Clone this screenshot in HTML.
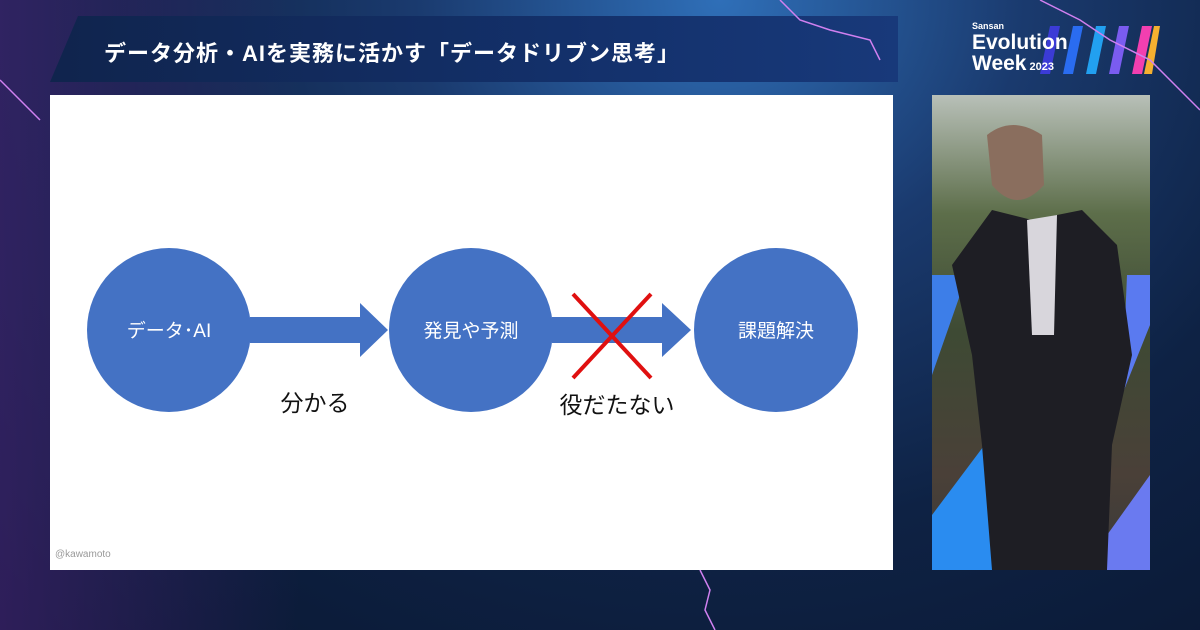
<!DOCTYPE html>
<html><head><meta charset="utf-8"><style>
body{margin:0;width:1200px;height:630px;overflow:hidden;background:#0c1a33;font-family:"Liberation Sans","Noto Sans CJK JP",sans-serif}
.bg{position:absolute;inset:0;background:radial-gradient(ellipse at 60% 0%,#2f6fb8 0%,#1a3a6e 30%,#0e2244 60%,#0a1630 100%)}
.bg2{position:absolute;inset:0;background:linear-gradient(90deg,rgba(90,40,140,.45) 0%,rgba(0,0,0,0) 25%)}
.title{position:absolute;left:50px;top:16px;width:848px;height:66px;background:linear-gradient(90deg,#10244d,#13306a 60%,#18397a);clip-path:polygon(28px 0,100% 0,100% 100%,0 100%)}
.title span{position:absolute;left:54px;top:20px;color:#fff;font-size:22px;font-weight:bold;letter-spacing:1px}
.slide{position:absolute;left:50px;top:95px;width:843px;height:475px;background:#fff}
.video{position:absolute;left:932px;top:95px;width:218px;height:475px;overflow:hidden;background:#6f7a6e}
</style></head><body>
<div class="bg"></div><div class="bg2"></div>
<div class="title"><span>データ分析・AIを実務に活かす「データドリブン思考」</span></div>
<svg style="position:absolute;left:1030px;top:24px" width="130" height="52">
<polygon points="10,50 20,2 30,2 20,50" fill="#3b3bd6"/><polygon points="33,50 43,2 53,2 43,50" fill="#2a6cf0"/>
<polygon points="56,50 66,2 76,2 66,50" fill="#22a0f0"/><polygon points="79,50 89,2 99,2 89,50" fill="#7a5cf0"/>
<polygon points="102,50 112,2 122,2 112,50" fill="#f23fb0"/><polygon points="114,50 124,2 130,2 122,50" fill="#f5b030"/></svg>
<div style="position:absolute;left:972px;top:22px;color:#fff;font-weight:bold;line-height:1;z-index:2">
<div style="font-size:9px">Sansan</div><div style="font-size:21px;margin-top:1px">Evolution</div><div style="font-size:21px">Week<span style="font-size:11px"> 2023</span></div></div>
<svg style="position:absolute;left:0;top:0" width="1200" height="630"><g fill="none" stroke="#d080f0" stroke-width="1.5">
<path d="M780 0 L800 20 L830 30 L870 40 L880 60"/><path d="M1040 0 L1080 20 L1110 40 L1150 60 L1180 90 L1200 110"/>
<path d="M700 570 L710 590 L705 610 L715 630"/><path d="M0 80 L20 100 L40 120"/></g></svg>
<div class="slide">
<svg width="843" height="475">
<circle cx="119" cy="235" r="82" fill="#4472c4"/><circle cx="421" cy="235" r="82" fill="#4472c4"/><circle cx="726" cy="235" r="82" fill="#4472c4"/>
<polygon points="200,222 310,222 310,208 338,235 310,262 310,248 200,248" fill="#4472c4"/>
<polygon points="502,222 612,222 612,208 641,235 612,262 612,248 502,248" fill="#4472c4"/>
<line x1="523" y1="199" x2="601" y2="283" stroke="#e01010" stroke-width="4"/><line x1="601" y1="199" x2="523" y2="283" stroke="#e01010" stroke-width="4"/>
<g fill="#fff" font-size="19" text-anchor="middle" font-family="Liberation Sans,Noto Sans CJK JP,sans-serif">
<text x="119" y="242">データ･AI</text><text x="421" y="242">発見や予測</text><text x="726" y="242">課題解決</text></g>
<g fill="#111" font-size="23" text-anchor="middle" font-family="Liberation Sans,Noto Sans CJK JP,sans-serif">
<text x="265" y="316">分かる</text><text x="567" y="318">役だたない</text></g>
<text x="5" y="462" font-size="10" fill="#999" font-family="Liberation Sans,sans-serif">@kawamoto</text>
</svg></div>
<div class="video">
<div style="position:absolute;inset:0;background:linear-gradient(180deg,#b8c0b8 0%,#5d6e4a 25%,#3e4a34 50%,#4a4038 80%,#3a3a3a 100%)"></div>
<svg style="position:absolute;left:0;top:0" width="218" height="475">
<polygon points="0,180 35,180 0,280" fill="#3d7ee8"/><polygon points="195,180 218,180 218,230 190,300" fill="#5a7af0"/>
<polygon points="0,475 0,420 60,340 90,340 70,475" fill="#2a8cf0"/><polygon points="150,475 218,380 218,475" fill="#6a7af0"/>
<path d="M55 40 Q80 20 110 40 L112 90 Q85 120 60 90Z" fill="#8a6e5e"/>
<path d="M20 170 L60 115 L100 125 L150 115 L185 150 L200 260 L180 350 L175 475 L60 475 L50 350 L40 260Z" fill="#1e1e24"/>
<polygon points="95,125 125,120 122,240 100,240" fill="#d8d6dc"/>
</svg></div>
</body></html>
